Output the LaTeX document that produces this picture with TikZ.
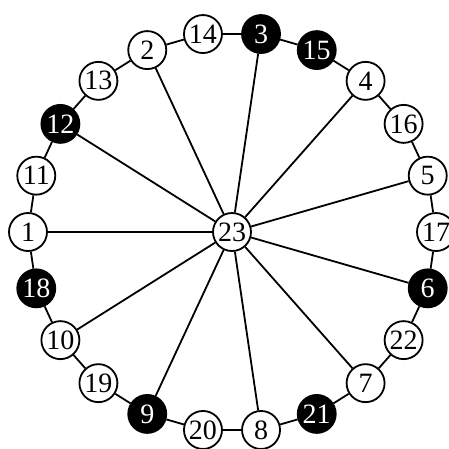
\documentclass[tikz,border=0pt]{standalone}
\usepackage{fontspec}
\setmainfont{Liberation Serif}
\begin{document}
\begin{tikzpicture}[x=1pt,y=-1pt,
  vtx/.style={circle,draw=black,line width=1.8pt,minimum size=38pt,inner sep=0pt,fill=white,
    font=\fontsize{28}{28}\selectfont},
  blk/.style={vtx,fill=black,text=white},
  edge/.style={line width=1.8pt}]
\useasboundingbox (0,0) rectangle (449,448);
\def\cx{232}\def\cy{232}
\node[vtx] (v23) at (\cx,\cy) {23};
\foreach \n/\k/\s in {1/0/vtx,11/1/vtx,12/2/blk,13/3/vtx,2/4/vtx,14/5/vtx,3/6/blk,15/7/blk,
  4/8/vtx,16/9/vtx,5/10/vtx,17/11/vtx,6/12/blk,22/13/vtx,7/14/vtx,21/15/blk,8/16/vtx,
  20/17/vtx,9/18/blk,19/19/vtx,10/20/vtx,18/21/blk}{
  \pgfmathsetmacro\ang{180-\k*360/22}
  \node[\s] (v\n) at ({\cx+204*cos(\ang)},{\cy-200*sin(\ang)}) {\n};
}
\foreach \a/\b in {1/11,11/12,12/13,13/2,2/14,14/3,3/15,15/4,4/16,16/5,5/17,17/6,6/22,22/7,
  7/21,21/8,8/20,20/9,9/19,19/10,10/18,18/1}{
  \draw[edge] (v\a) -- (v\b);
}
\foreach \b in {1,2,3,4,5,6,7,8,9,10,12}{
  \draw[edge] (v23) -- (v\b);
}
\end{tikzpicture}
\end{document}
